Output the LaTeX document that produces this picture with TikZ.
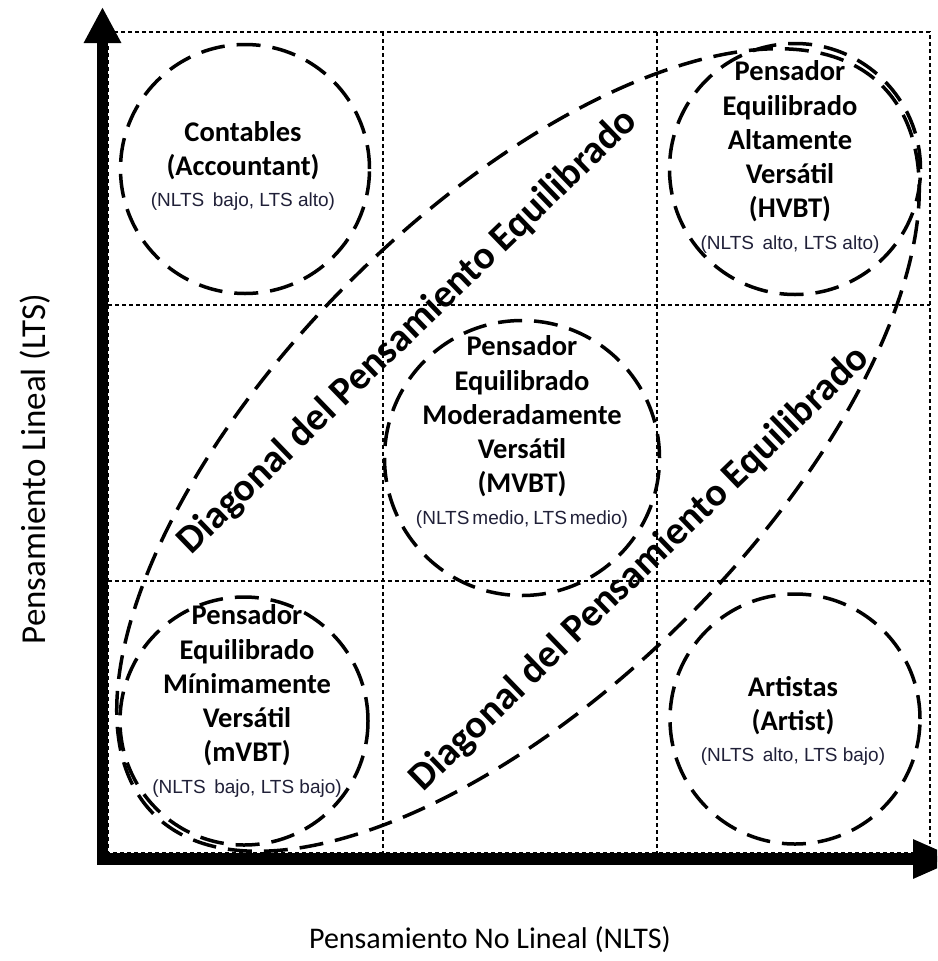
\documentclass[tikz,border=0pt]{standalone}
\usepackage{fontspec}
\setmainfont{Carlito}
\newfontfamily\arialfont{Liberation Sans}
\usetikzlibrary{arrows.meta}

\definecolor{inkblue}{RGB}{32,32,56}

\tikzset{
  axisline/.style={line width=11.5pt, line join=miter},
  gridline/.style={line width=1.1pt, dash pattern=on 4pt off 3pt},
  bigdash/.style={line width=3.5pt, dash pattern=on 24pt off 12pt},
  zone/.style={circle, draw, bigdash, inner sep=0pt},
  zonetext/.style={align=center, font=\fontsize{28.5}{34.3}\selectfont\bfseries, inner sep=0pt},
  diagtext/.style={font=\fontsize{39.5}{46}\selectfont\bfseries, inner sep=0pt},
  axistext/.style={font=\fontsize{30}{36}\selectfont, inner sep=0pt},
}
% level line under each zone title
\newcommand\zonelevel[1]{{\fontsize{19}{22}\selectfont\mdseries\arialfont\color{inkblue}#1}}

\begin{document}
\begin{tikzpicture}[x=1pt,y=-1pt]
\useasboundingbox (0,0) rectangle (937,961);
\fill[white] (0,0) rectangle (937,961);

% 3x3 grid
\draw[gridline] (108,32) rectangle (930,853);
\draw[gridline] (383,32) -- (383,853);
\draw[gridline] (657,32) -- (657,853);
\draw[gridline] (108,305) -- (930,305);
\draw[gridline] (108,581) -- (930,581);

% axes
\begin{scope}
  \clip (0,0) rectangle (937,961);
  \coordinate (ytip) at (102.5,7);
  \coordinate (xtip) at (960,859);
  \draw[axisline, {Triangle[length=36pt,width=35pt]}-{Triangle[length=47pt,width=36pt]}] (ytip) |- (xtip);
\end{scope}

% balanced-thinking diagonal
\draw[bigdash, rotate around={45:(518,450)}] (518,450) ellipse [x radius=515, y radius=238];

% zones
\node[zone, minimum size=249] (acc) at (245,169) {};
\node[zone, minimum size=251] (hvbt) at (795,169) {};
\node[zone, minimum size=275] (mvbt) at (522,458) {};
\node[zone, minimum size=248] (minvbt) at (244,721) {};
\node[zone, minimum size=250] (art) at (795,719) {};

\node[zonetext] (acc-text) at (243,166) {Contables\\(Accountant)\\[-3pt]\zonelevel{(NLTS\hspace{0.45em}bajo, LTS alto)}};
\node[zonetext] (hvbt-text) at (790,157) {Pensador\\Equilibrado\\Altamente\\Vers\'atil\\(HVBT)\\[-3pt]\zonelevel{(NLTS\hspace{0.45em}alto, LTS alto)}};
\node[zonetext] (mvbt-text) at (522,432) {Pensador\\Equilibrado\\Moderadamente\\Vers\'atil\\(MVBT)\\[-3pt]\zonelevel{(NLTS\hspace{3pt}medio,\hspace{4pt}LTS\hspace{3pt}medio)}};
\node[zonetext] (minvbt-text) at (247,701) {Pensador\\Equilibrado\\M\'inimamente\\Vers\'atil\\(mVBT)\\[-3pt]\zonelevel{(NLTS\hspace{0.45em}bajo, LTS bajo)}};
\node[zonetext] (art-text) at (793,721) {Artistas\\(Artist)\\[-3pt]\zonelevel{(NLTS\hspace{0.45em}alto, LTS bajo)}};

% diagonal labels
\node[diagtext, rotate=44] (diag-up) at (408,332) {Diagonal del Pensamiento Equilibrado};
\node[diagtext, rotate=44] (diag-down) at (640,569) {Diagonal del Pensamiento Equilibrado};

% axis titles
\node[axistext, rotate=90, font=\fontsize{35}{42}\selectfont] (ylabel) at (35,469) {Pensamiento Lineal (LTS)};
\node[axistext] (xlabel) at (490,940) {Pensamiento No Lineal (NLTS)};
\end{tikzpicture}
\end{document}
